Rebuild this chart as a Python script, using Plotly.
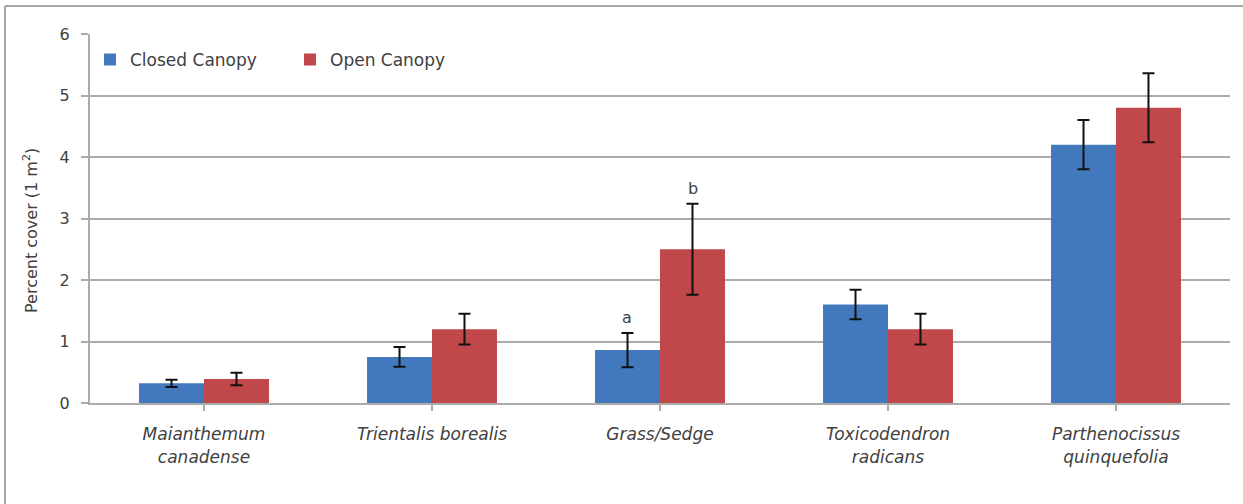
import plotly.graph_objects as go

# Species groups (italic names, two lines where long)
species = [
    "Maianthemum<br>canadense",
    "Trientalis borealis",
    "Grass/Sedge",
    "Toxicodendron<br>radicans",
    "Parthenocissus<br>quinquefolia",
]
closed_mean = [0.32, 0.75, 0.86, 1.60, 4.20]
closed_err = [0.06, 0.16, 0.28, 0.24, 0.40]
open_mean = [0.39, 1.20, 2.50, 1.20, 4.80]
open_err = [0.10, 0.25, 0.74, 0.25, 0.56]

y_ticks = [0, 1, 2, 3, 4, 5, 6]

BLUE = "#4279BD"
RED = "#C0474A"
TEXT = "#404040"
GRID = "#ABABAB"
FONT = "DejaVu Sans, Liberation Sans, sans-serif"

cats = list(range(len(species)))
ticktext = ["<i>" + s.replace("<br>", "</i><br><i>") + "</i>" for s in species]

fig = go.Figure()
fig.add_trace(go.Bar(
    x=cats, y=closed_mean, name="Closed Canopy",
    marker=dict(color=BLUE, line=dict(width=0)),
    error_y=dict(type="data", array=closed_err, color="#111111", thickness=2, width=6),
))
fig.add_trace(go.Bar(
    x=cats, y=open_mean, name="Open Canopy",
    marker=dict(color=RED, line=dict(width=0)),
    error_y=dict(type="data", array=open_err, color="#111111", thickness=2, width=6),
))

# Significance letters over the Grass/Sedge pair
gi = 2
fig.add_annotation(x=gi, y=closed_mean[gi] + closed_err[gi], text="a", showarrow=False,
                   xshift=-33, yshift=4, yanchor="bottom",
                   font=dict(family=FONT, size=16, color=TEXT))
fig.add_annotation(x=gi, y=open_mean[gi] + open_err[gi], text="b", showarrow=False,
                   xshift=33, yshift=4, yanchor="bottom",
                   font=dict(family=FONT, size=16, color=TEXT))

# Y axis title, placed beside the tick labels
fig.add_annotation(xref="paper", yref="paper", x=(30 - 90) / 1140, y=(403 - 231) / 369,
                   text="Percent cover (1 m<sup>2</sup>)", textangle=-90, showarrow=False,
                   xanchor="center", yanchor="middle",
                   font=dict(family=FONT, size=16, color=TEXT))

# Outer chart frame (left and top edges)
frame_left = -85 / 1140
frame_top = (403 - 6) / 369
fig.add_shape(type="line", xref="paper", yref="paper",
              x0=frame_left, x1=frame_left, y0=-0.5, y1=frame_top,
              line=dict(color="#A6A6A6", width=2))
fig.add_shape(type="line", xref="paper", yref="paper",
              x0=frame_left, x1=1.2, y0=frame_top, y1=frame_top,
              line=dict(color="#A6A6A6", width=2))

fig.update_layout(
    width=1243, height=504,
    margin=dict(l=90, r=13, t=34, b=101),
    paper_bgcolor="white", plot_bgcolor="white",
    barmode="group", bargap=0.43, bargroupgap=0,
    font=dict(family=FONT, color=TEXT),
    showlegend=True,
    legend=dict(orientation="h", x=0.0, y=0.93, xanchor="left", yanchor="middle",
                font=dict(family=FONT, size=17, color=TEXT),
                bgcolor="rgba(0,0,0,0)", itemwidth=30, tracegroupgap=0,
                entrywidthmode="pixels", entrywidth=155),
)
fig.update_xaxes(
    tickmode="array", tickvals=cats, ticktext=ticktext,
    range=[-0.5, len(species) - 0.5],
    showline=True, linecolor=GRID, linewidth=2,
    ticks="outside", tickson="boundaries", ticklen=6, tickcolor=GRID, tickwidth=2,
    tickfont=dict(family=FONT, size=17, color=TEXT),
    ticklabelstandoff=9,
    showgrid=False,
)
fig.update_yaxes(
    range=[0, 6], tickvals=y_ticks,
    showline=True, linecolor=GRID, linewidth=2,
    ticks="outside", ticklen=7, tickcolor=GRID, tickwidth=2,
    showgrid=True, gridcolor=GRID, gridwidth=2,
    zeroline=False,
    ticklabelstandoff=8,
    tickfont=dict(family=FONT, size=16, color=TEXT),
)

fig.write_html("out.html")
